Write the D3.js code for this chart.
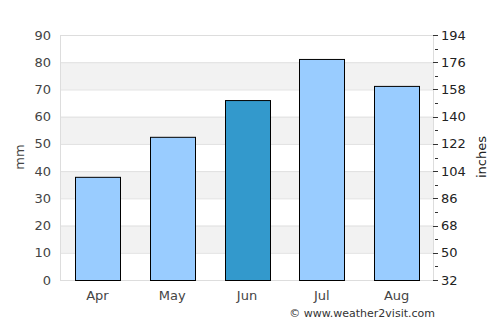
<!DOCTYPE html>
<html><head><meta charset="utf-8">
<script src="https://cdn.jsdelivr.net/npm/d3@7"></script>
<style>body{margin:0;background:#fff}svg{display:block;font-family:"DejaVu Sans",sans-serif}</style>
</head><body><svg id="c" width="500" height="325"></svg>
<script>
const months = ["Apr","May","Jun","Jul","Aug"];
const values = [37.9, 52.6, 66.1, 81.2, 71.3];
const highlight = [false, false, true, false, false];
const leftTicks = [0,10,20,30,40,50,60,70,80,90];
const rightTicks = [32,50,68,86,104,122,140,158,176,194];

const svg = d3.select("#c");
const L=60, R=434, T=35, B=280;
const x = d3.scaleBand().domain(months).range([L,R]).paddingInner(0.4).paddingOuter(0.2);
const y = d3.scaleLinear().domain([0,90]).range([B,T]);
const y2 = d3.scaleLinear().domain([32,194]).range([B,T]);

// bands
for (let i=0;i<leftTicks.length-1;i++){
  if (i%2===1) svg.append("rect").attr("x",L).attr("y",y(leftTicks[i+1])).attr("width",R-L).attr("height",y(leftTicks[i])-y(leftTicks[i+1])).attr("fill","#f2f2f2");
}
// gridlines
svg.append("g").selectAll("line").data(leftTicks).join("line")
  .attr("x1",L).attr("x2",R).attr("y1",d=>y(d)+0.5).attr("y2",d=>y(d)+0.5)
  .attr("stroke","#e0e0e0");
svg.append("rect").attr("x",L+0.5).attr("y",T+0.5).attr("width",R-L-1).attr("height",B-T).attr("fill","none").attr("stroke","#dddddd");

// bars
svg.append("g").selectAll("rect").data(months).join("rect")
  .attr("x",d=>Math.round(x(d))+0.5).attr("width",Math.round(x.bandwidth()))
  .attr("y",(d,i)=>y(values[i])+0.5).attr("height",(d,i)=>B-y(values[i]))
  .attr("fill",(d,i)=>highlight[i]?"#3399cc":"#99ccff")
  .attr("stroke","#000").attr("stroke-width",1);

// left axis labels
svg.append("g").selectAll("text").data(leftTicks).join("text")
  .attr("x",51).attr("y",d=>y(d)).attr("dy","0.35em").attr("text-anchor","end")
  .attr("font-size",13).attr("fill","#444").text(d=>d);
// right axis ticks
const minor = d3.range(0,rightTicks.length-1).map(i=>(rightTicks[i]+rightTicks[i+1])/2);
svg.append("g").selectAll("line").data(rightTicks).join("line")
  .attr("x1",R-1).attr("x2",R+4).attr("y1",d=>Math.round(y2(d))+0.5).attr("y2",d=>Math.round(y2(d))+0.5)
  .attr("stroke","#333");
svg.append("g").selectAll("line").data(minor).join("line")
  .attr("x1",R+1).attr("x2",R+4).attr("y1",d=>Math.round(y2(d))+0.5).attr("y2",d=>Math.round(y2(d))+0.5)
  .attr("stroke","#333");
svg.append("g").selectAll("text").data(rightTicks).join("text")
  .attr("x",441).attr("y",d=>y2(d)).attr("dy","0.35em").attr("text-anchor","start")
  .attr("font-size",13).attr("fill","#222").text(d=>d);
// x labels
svg.append("g").selectAll("text").data(months).join("text")
  .attr("x",d=>x(d)+x.bandwidth()/2).attr("y",300).attr("text-anchor","middle")
  .attr("font-size",13).attr("fill","#444").text(d=>d);
// axis titles
svg.append("text").attr("transform","translate(24,157) rotate(-90)").attr("text-anchor","middle")
  .attr("font-size",13).attr("fill","#444").text("mm");
svg.append("text").attr("transform","translate(486,157) rotate(-90)").attr("text-anchor","middle")
  .attr("font-size",13).attr("fill","#222").text("inches");
// credit
svg.append("text").attr("x",435).attr("y",317).attr("text-anchor","end")
  .attr("font-size",11).attr("fill","#333").text("© www.weather2visit.com");
</script></body></html>
